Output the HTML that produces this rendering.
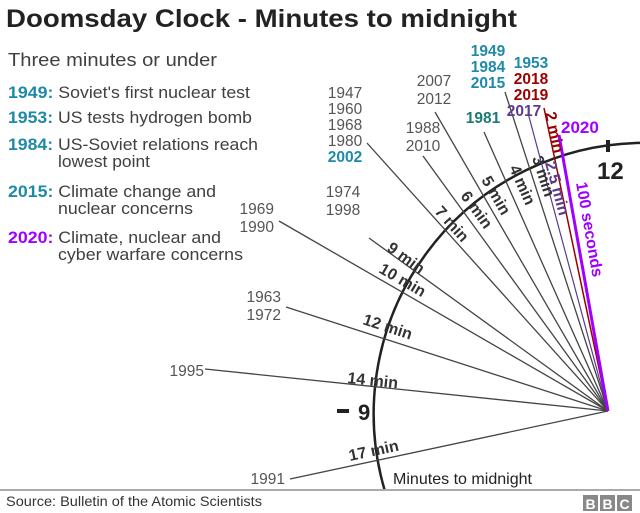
<!DOCTYPE html>
<html><head><meta charset="utf-8"><style>
body{margin:0;background:#fff;}
svg{display:block;font-family:"Liberation Sans",Arial,sans-serif;}
</style></head><body>
<svg width="640" height="513" viewBox="0 0 640 513">
<text x="6" y="27" font-size="25" font-weight="bold" fill="#222" textLength="511" lengthAdjust="spacingAndGlyphs">Doomsday Clock - Minutes to midnight</text>
<g font-size="16.5" fill="#404040">
<text x="8" y="66" font-size="18" textLength="209" lengthAdjust="spacingAndGlyphs">Three minutes or under</text>
<text x="8" y="98" textLength="242" lengthAdjust="spacingAndGlyphs"><tspan font-weight="bold" fill="#1f8aa8">1949:</tspan> Soviet's first nuclear test</text>
<text x="8" y="123" textLength="244" lengthAdjust="spacingAndGlyphs"><tspan font-weight="bold" fill="#1f8aa8">1953:</tspan> US tests hydrogen bomb</text>
<text x="8" y="150" textLength="250" lengthAdjust="spacingAndGlyphs"><tspan font-weight="bold" fill="#1f8aa8">1984:</tspan> US-Soviet relations reach</text>
<text x="58" y="167" textLength="92" lengthAdjust="spacingAndGlyphs">lowest point</text>
<text x="8" y="197" textLength="208" lengthAdjust="spacingAndGlyphs"><tspan font-weight="bold" fill="#1f8aa8">2015:</tspan> Climate change and</text>
<text x="58" y="214" textLength="135" lengthAdjust="spacingAndGlyphs">nuclear concerns</text>
<text x="8" y="243" textLength="213" lengthAdjust="spacingAndGlyphs"><tspan font-weight="bold" fill="#a100ff">2020:</tspan> Climate, nuclear and</text>
<text x="58" y="260" textLength="185" lengthAdjust="spacingAndGlyphs">cyber warfare concerns</text>
</g>
<path d="M 640 142.9 A 271 271 0 0 0 384.6 490" fill="none" stroke="#222" stroke-width="2.5"/>
<line x1="608" y1="140" x2="608" y2="152" stroke="#222" stroke-width="4"/>
<line x1="337" y1="411" x2="349" y2="411" stroke="#222" stroke-width="4"/>
<text x="597" y="179" font-size="24" font-weight="bold" fill="#222">12</text>
<text x="358" y="420" font-size="22" font-weight="bold" fill="#222">9</text>
<g stroke="#444" stroke-width="1.3">
<line x1="608" y1="411" x2="290" y2="479"/>
<line x1="608" y1="411" x2="205" y2="369"/>
<line x1="608" y1="411" x2="286" y2="307"/>
<line x1="608" y1="411" x2="279" y2="221"/>
<line x1="608" y1="411" x2="369" y2="238"/>
<line x1="608" y1="411" x2="367" y2="143"/>
<line x1="608" y1="411" x2="423" y2="156"/>
<line x1="608" y1="411" x2="435" y2="112"/>
<line x1="608" y1="411" x2="484" y2="132"/>
<line x1="608" y1="411" x2="505" y2="92"/>
</g>
<line x1="608" y1="411" x2="528" y2="113" stroke="#5b3a8f" stroke-width="1.2"/>
<line x1="608" y1="411" x2="544" y2="108" stroke="#9a0000" stroke-width="1.5"/>
<line x1="608" y1="411" x2="559" y2="135" stroke="#a100ff" stroke-width="3"/>
<g font-size="16" font-weight="bold" fill="#333">
<text transform="translate(350,461) rotate(-12)">17 min</text>
<text transform="translate(347,383) rotate(6)">14 min</text>
<text transform="translate(362,324) rotate(18)">12 min</text>
<text transform="translate(378,272) rotate(30)">10 min</text>
<text transform="translate(386,250) rotate(36)">9 min</text>
<text transform="translate(434,212) rotate(48)">7 min</text>
<text transform="translate(460,196) rotate(54)">6 min</text>
<text transform="translate(481,180) rotate(60)">5 min</text>
<text transform="translate(509,168) rotate(66)">4 min</text>
<text transform="translate(532,158) rotate(72)">3 min</text>
<text transform="translate(545,163) rotate(75)" fill="#5b3a8f">2.5 min</text>
<text transform="translate(545,113) rotate(78)" fill="#9a0000">2 min</text>
<text transform="translate(576,183) rotate(80)" fill="#a100ff">100 seconds</text>
</g>
<g font-size="15.5" fill="#555">
<text x="285" y="484" text-anchor="end">1991</text>
<text x="204" y="376" text-anchor="end">1995</text>
<text x="281" y="302" text-anchor="end">1963</text>
<text x="281" y="320" text-anchor="end">1972</text>
<text x="274" y="214" text-anchor="end">1969</text>
<text x="274" y="232" text-anchor="end">1990</text>
<text x="343" y="197" text-anchor="middle">1974</text>
<text x="343" y="215" text-anchor="middle">1998</text>
<text x="345" y="98" text-anchor="middle">1947</text>
<text x="345" y="114" text-anchor="middle">1960</text>
<text x="345" y="130" text-anchor="middle">1968</text>
<text x="345" y="146" text-anchor="middle">1980</text>
<text x="345" y="162" text-anchor="middle" font-weight="bold" fill="#1f8aa8">2002</text>
<text x="423" y="133" text-anchor="middle">1988</text>
<text x="423" y="151" text-anchor="middle">2010</text>
<text x="434" y="86" text-anchor="middle">2007</text>
<text x="434" y="104" text-anchor="middle">2012</text>
<text x="483" y="123" text-anchor="middle" font-weight="bold" fill="#1a7a74">1981</text>
<g font-weight="bold" fill="#1f8aa8">
<text x="488" y="56" text-anchor="middle">1949</text>
<text x="488" y="72" text-anchor="middle">1984</text>
<text x="488" y="88" text-anchor="middle">2015</text>
<text x="531" y="68" text-anchor="middle">1953</text>
</g>
<text x="531" y="84" text-anchor="middle" font-weight="bold" fill="#9a0000">2018</text>
<text x="531" y="100" text-anchor="middle" font-weight="bold" fill="#9a0000">2019</text>
<text x="524" y="116" text-anchor="middle" font-weight="bold" fill="#5b3a8f">2017</text>
<text x="561" y="133" font-size="17" font-weight="bold" fill="#a100ff">2020</text>
</g>
<text x="393" y="484" font-size="16" fill="#222" textLength="139" lengthAdjust="spacingAndGlyphs">Minutes to midnight</text>
<line x1="0" y1="490" x2="640" y2="490" stroke="#aaa" stroke-width="2"/>
<text x="6" y="506" font-size="14" fill="#333" textLength="256" lengthAdjust="spacingAndGlyphs">Source: Bulletin of the Atomic Scientists</text>
<g font-size="14" font-weight="bold" fill="#fff">
<rect x="583" y="495" width="15" height="16" fill="#888"/><text x="590.5" y="509" text-anchor="middle">B</text>
<rect x="600" y="495" width="15" height="16" fill="#888"/><text x="607.5" y="509" text-anchor="middle">B</text>
<rect x="617" y="495" width="15" height="16" fill="#888"/><text x="624.5" y="509" text-anchor="middle">C</text>
</g>
</svg>
</body></html>
